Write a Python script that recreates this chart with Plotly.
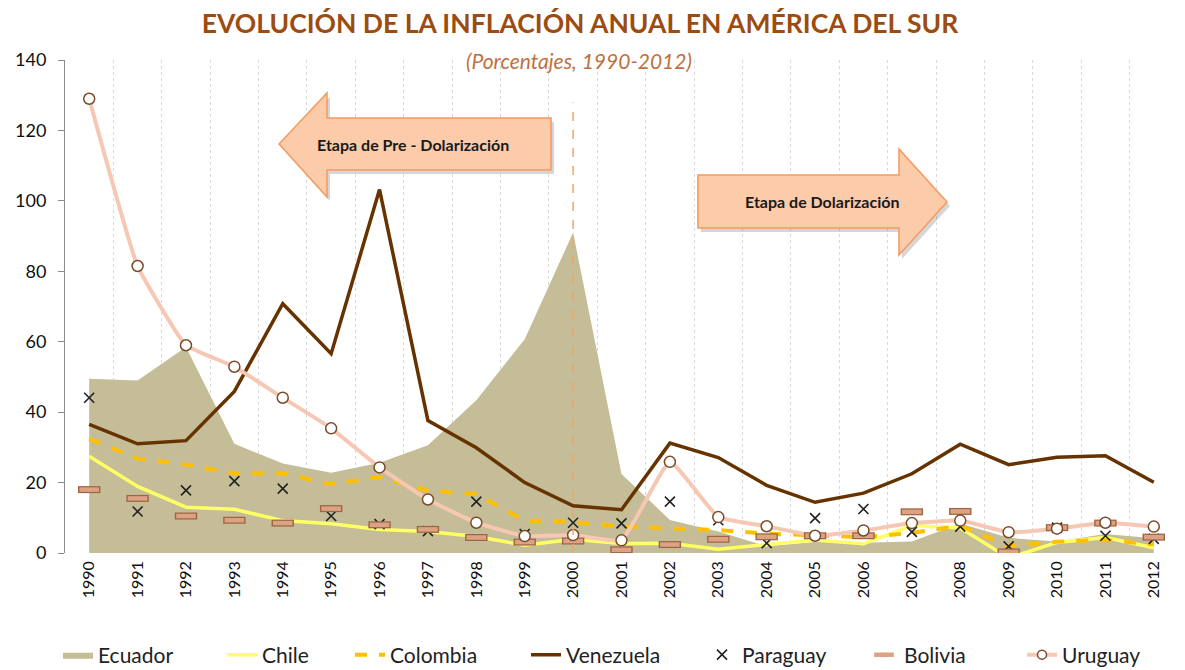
import plotly.graph_objects as go

years = list(range(1990, 2013))
year_labels = [str(y) for y in years]
ecuador = [49.5, 49.0, 58.5, 31.0, 25.4, 22.8, 25.6, 30.6, 43.4, 60.7, 91.0, 22.4, 9.4, 6.1, 1.9, 3.1, 2.9, 3.3, 8.4, 4.3, 3.3, 5.4, 4.2]
chile = [27.5, 18.9, 13.0, 12.4, 9.2, 8.3, 6.7, 6.1, 4.7, 2.2, 3.9, 2.7, 2.8, 1.1, 2.4, 3.7, 2.6, 7.8, 7.1, -1.4, 3.0, 4.4, 1.5]
colombia = [32.4, 26.8, 25.1, 22.6, 22.6, 19.5, 21.6, 17.7, 16.7, 9.2, 8.8, 7.6, 7.0, 6.5, 5.5, 4.9, 4.5, 5.7, 7.7, 2.0, 3.2, 3.7, 2.4]
venezuela = [36.5, 31.0, 31.9, 45.9, 70.8, 56.6, 103.2, 37.6, 29.9, 20.0, 13.4, 12.3, 31.2, 27.1, 19.2, 14.4, 17.0, 22.5, 30.9, 25.1, 27.2, 27.6, 20.1]
paraguay = [44.1, 11.8, 17.8, 20.4, 18.3, 10.5, 8.2, 6.2, 14.6, 5.4, 8.6, 8.4, 14.6, 9.3, 2.8, 9.9, 12.5, 6.0, 7.5, 1.9, 7.2, 4.9, 4.0]
bolivia = [18.0, 15.5, 10.5, 9.3, 8.5, 12.6, 8.0, 6.7, 4.4, 3.1, 3.4, 0.9, 2.4, 3.9, 4.6, 4.9, 4.9, 11.7, 11.8, 0.3, 7.2, 8.5, 4.5]
uruguay = [129.0, 81.5, 59.0, 52.9, 44.1, 35.4, 24.3, 15.2, 8.6, 4.8, 5.1, 3.6, 25.9, 10.2, 7.6, 4.9, 6.4, 8.5, 9.2, 5.9, 6.9, 8.6, 7.5]
dollarization_year = 2000

FONT = "Lato"
W, H = 1185, 670
ML, MR, MT, MB = 65, 7, 60, 117
PW, PH = W - ML - MR, H - MT - MB


def px2paper(px, py):
    return (px - ML) / PW, (H - MB - py) / PH


def path_from_px(points):
    pts = [px2paper(x, y) for x, y in points]
    return "M " + " L ".join(f"{x:.4f},{y:.4f}" for x, y in pts) + " Z"


fig = go.Figure()

fig.add_trace(go.Scatter(x=years, y=ecuador, name="Ecuador", mode="lines",
                         fill="tozeroy", fillcolor="#C4BD97", line=dict(width=0, color="#C4BD97"),
                         legend="legend"))
fig.add_trace(go.Scatter(x=years, y=chile, name="Chile", mode="lines",
                         line=dict(color="#FFFF66", width=3.5), legend="legend2"))
fig.add_trace(go.Scatter(x=years, y=colombia, name="Colombia", mode="lines",
                         line=dict(color="#FFC000", width=4, dash="dash"), legend="legend3"))
fig.add_trace(go.Scatter(x=years, y=venezuela, name="Venezuela", mode="lines",
                         line=dict(color="#663300", width=3.5), legend="legend4"))
fig.add_trace(go.Scatter(x=years, y=uruguay, name="Uruguay", mode="lines", showlegend=False,
                         line=dict(color="#F6C7B3", width=4, shape="spline", smoothing=0.35)))
fig.add_trace(go.Scatter(x=years, y=paraguay, name="Paraguay", mode="markers",
                         marker=dict(symbol="x-thin", size=10, color="#222222",
                                     line=dict(color="#222222", width=1.6)), legend="legend5"))
fig.add_trace(go.Scatter(x=years, y=bolivia, name="Bolivia", mode="markers", showlegend=False,
                         marker=dict(symbol="line-ew", size=16,
                                     line=dict(color="#9C6644", width=7))))
fig.add_trace(go.Scatter(x=years, y=bolivia, name="Bolivia", mode="markers",
                         marker=dict(symbol="line-ew", size=14,
                                     line=dict(color="#DDA283", width=4.5)), legend="legend6"))
fig.add_trace(go.Scatter(x=years, y=uruguay, name="Uruguay", mode="markers",
                         marker=dict(symbol="circle", size=11, color="white",
                                     line=dict(color="#7A4B2A", width=1.5)),
                         showlegend=False))
# legend-only entry for Uruguay (line + circle)
fig.add_trace(go.Scatter(x=[None], y=[None], name="Uruguay", mode="lines+markers",
                         line=dict(color="#F6C7B3", width=4),
                         marker=dict(symbol="circle", size=9, color="white",
                                     line=dict(color="#7A4B2A", width=1.5)),
                         legend="legend7"))

# vertical dashed line at dollarization year
fig.add_shape(type="line", x0=dollarization_year, x1=dollarization_year, y0=0, y1=128,
              xref="x", yref="y", line=dict(color="#F4A460", width=1.5, dash="dash"))

# arrows (decorations, pixel-defined)
left_arrow = [(279, 144), (327, 93), (327, 118), (551, 118), (551, 170), (327, 170), (327, 197)]
right_arrow = [(698, 175), (899, 175), (899, 149), (947, 202), (899, 255), (899, 228), (698, 228)]
for pts in (left_arrow, right_arrow):
    shadow = [(x + 3, y + 4) for x, y in pts]
    fig.add_shape(type="path", path=path_from_px(shadow), xref="paper", yref="paper",
                  fillcolor="rgba(120,120,120,0.3)", line=dict(width=0), layer="above")
    fig.add_shape(type="path", path=path_from_px(pts), xref="paper", yref="paper",
                  fillcolor="#FCCBAA", line=dict(color="#F39A5E", width=1.5), layer="above")

ax, ay = px2paper(413, 144)
fig.add_annotation(x=ax, y=ay, xref="paper", yref="paper", xanchor="center", yanchor="middle",
                   text="<b>Etapa de Pre - Dolarización</b>",
                   showarrow=False, font=dict(family=FONT, size=16, color="#1a1a1a"))
ax, ay = px2paper(822, 202)
fig.add_annotation(x=ax, y=ay, xref="paper", yref="paper", xanchor="center", yanchor="middle",
                   text="<b>Etapa de Dolarización</b>",
                   showarrow=False, font=dict(family=FONT, size=16, color="#1a1a1a"))

sx, sy = px2paper(579, 60)
fig.add_annotation(x=sx, y=sy, xref="paper", yref="paper", xanchor="center", yanchor="middle",
                   text="<i>(Porcentajes, 1990-2012)</i>",
                   showarrow=False, font=dict(family=FONT, size=21, color="#BF7040"))

legend_starts = [58, 222, 350, 526, 702, 864, 1022]
legend_names = ["legend", "legend2", "legend3", "legend4", "legend5", "legend6", "legend7"]
legend_cfg = {}
for name, lx in zip(legend_names, legend_starts):
    px_, py_ = px2paper(lx, 655)
    legend_cfg[name] = dict(x=px_, y=py_, xanchor="left", yanchor="middle", orientation="h",
                            bgcolor="rgba(0,0,0,0)", font=dict(family=FONT, size=21, color="#222222"),
                            itemsizing="trace")

fig.update_layout(
    width=W, height=H,
    margin=dict(l=ML, r=MR, t=MT, b=MB, autoexpand=False),
    paper_bgcolor="white", plot_bgcolor="white",
    title=dict(text="<b>EVOLUCIÓN DE LA INFLACIÓN ANUAL EN AMÉRICA DEL SUR</b>",
               x=580 / W, xanchor="center", y=1 - 24 / H, yanchor="middle",
               font=dict(family=FONT, size=26.5, color="#9C4C10")),
    xaxis=dict(range=[1989.5, 2012.5], tickmode="array", tickvals=years, ticktext=year_labels,
               tickangle=-90, showgrid=False, zeroline=False, showline=False, ticks="",
               ticklabelstandoff=4,
               tickfont=dict(family=FONT, size=16, color="#111111"),
               minor=dict(tickvals=[y + 0.5 for y in years[:-1]], showgrid=True,
                          gridcolor="#D9D9D9", griddash="dot", gridwidth=1, ticks="")),
    yaxis=dict(range=[0, 140], tickmode="array", tickvals=[0, 20, 40, 60, 80, 100, 120, 140],
               showgrid=False, zeroline=False, showline=True, linecolor="#8C8C8C", linewidth=1,
               ticks="outside", ticklen=6, tickcolor="#8C8C8C", ticklabelstandoff=8,
               tickfont=dict(family=FONT, size=18, color="#111111")),
    **legend_cfg,
)

fig.write_html("out.html", config={"displayModeBar": False},
               post_script="document.body.style.margin='0px';document.body.style.overflow='hidden';")
